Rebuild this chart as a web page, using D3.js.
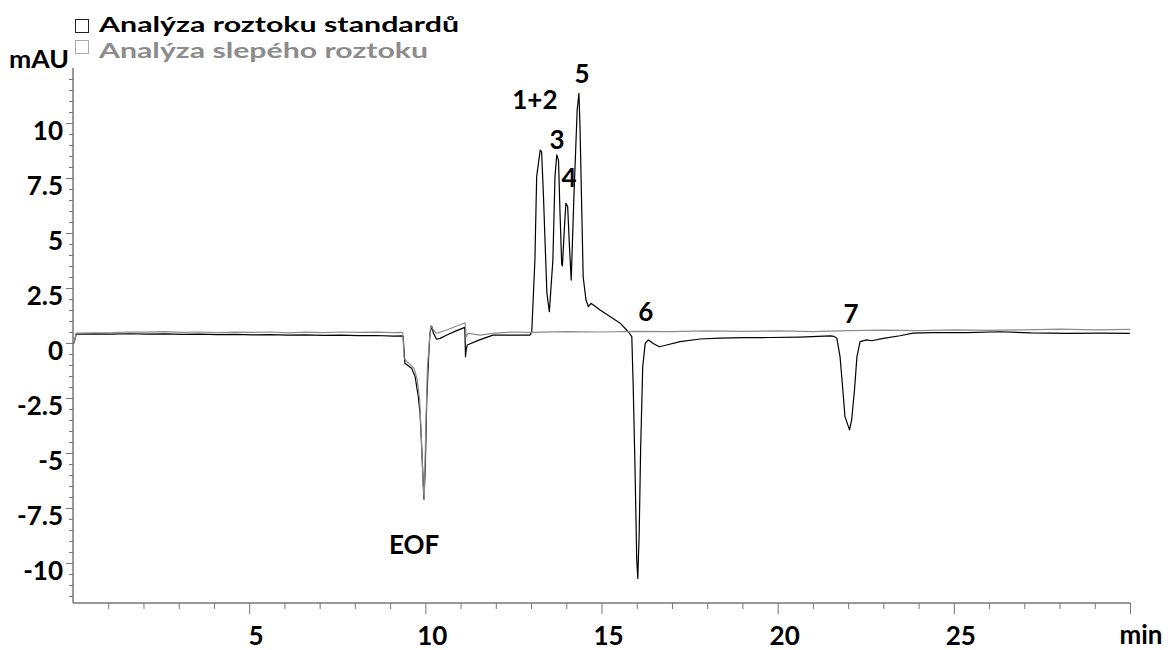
<!DOCTYPE html>
<html><head><meta charset="utf-8">
<script src="https://cdn.jsdelivr.net/npm/d3@7"></script>
<style>body{margin:0;background:#fff}svg{display:block}</style>
</head><body>
<svg id="c" width="1168" height="650"></svg>
<script>
const seriesNames = ["Analýza roztoku standardů", "Analýza slepého roztoku"];
const seriesColors = ["#000000", "#8c8c8c"];

const standardTime = [0,0.03,0.09,0.6,1.1,1.6,2.1,2.6,3.1,3.6,4.1,4.6,5.1,5.6,6.1,6.6,7.1,7.6,8.1,8.6,9.1,9.35,9.37,9.42,9.61,9.71,9.80,9.85,9.90,9.94,9.96,10.0,10.04,10.09,10.13,10.18,10.23,10.32,10.42,10.61,10.89,11.12,11.14,11.16,11.19,11.5,11.92,12.4,12.97,13.02,13.11,13.16,13.26,13.30,13.35,13.45,13.52,13.62,13.68,13.73,13.78,13.82,13.87,13.89,13.95,13.99,14.04,14.09,14.14,14.22,14.31,14.36,14.39,14.44,14.48,14.56,14.63,14.70,14.77,14.96,15.24,15.53,15.76,15.86,15.90,15.95,16.0,16.03,16.07,16.11,16.17,16.24,16.33,16.47,16.64,16.85,17.23,17.80,18.36,19.0,19.8,20.64,21.49,21.60,21.68,21.77,21.85,21.91,22.04,22.10,22.18,22.25,22.34,22.53,22.67,23.0,23.47,23.84,24.41,25.37,26.31,27.2,28.2,29.15,30.0];
const standardValue = [0,0,0.40,0.41,0.40,0.42,0.40,0.41,0.39,0.40,0.38,0.39,0.37,0.38,0.36,0.37,0.35,0.36,0.33,0.34,0.31,0.32,0.30,-0.92,-1.15,-1.53,-2.44,-3.2,-4.86,-6.38,-7.1,-5.6,-2.6,-0.77,0.44,0.77,0.44,0.17,0.21,0.36,0.56,0.71,-0.62,-0.3,-0.09,0.12,0.36,0.36,0.36,0.5,3.77,7.56,8.77,8.7,6.8,2.27,1.42,3.77,7.56,8.55,8.3,6.05,3.6,3.5,5.3,6.35,6.2,4.4,2.86,6.8,10.6,11.35,9.8,6.05,3.0,1.95,1.65,1.8,1.73,1.5,1.2,0.9,0.51,0.29,-1.99,-5.6,-9.86,-10.7,-8.65,-4.86,-1.08,-0.02,0.14,-0.02,-0.17,-0.09,0.06,0.18,0.22,0.24,0.25,0.27,0.32,0.30,0.21,-0.62,-2.14,-3.35,-3.95,-3.5,-2.14,-0.62,0.06,0.14,0.10,0.21,0.33,0.45,0.47,0.47,0.51,0.46,0.44,0.45,0.44];

const blankTime = [0,0.03,0.09,0.6,1.1,1.6,2.1,2.6,3.1,3.6,4.1,4.6,5.1,5.6,6.1,6.6,7.1,7.6,8.1,8.6,9.1,9.35,9.36,9.40,9.48,9.68,9.77,9.84,9.89,9.94,9.97,10.01,10.06,10.15,10.23,10.32,10.61,10.89,11.13,11.16,11.22,11.55,11.92,12.5,13.0,14.0,15.0,16.0,17.0,18.0,19.0,20.0,21.0,22.0,23.0,24.0,25.0,26.0,27.0,28.0,29.0,30.0];
const blankValue = [0,0,0.45,0.46,0.47,0.50,0.49,0.52,0.48,0.50,0.47,0.49,0.48,0.50,0.46,0.49,0.47,0.50,0.48,0.49,0.47,0.48,0.45,-0.7,-0.85,-1.15,-1.68,-2.6,-4.4,-6.5,-7.1,-4.1,-1.08,0.77,0.59,0.44,0.59,0.77,0.92,0.29,0.44,0.36,0.44,0.5,0.48,0.52,0.5,0.53,0.52,0.55,0.53,0.55,0.52,0.56,0.58,0.56,0.6,0.57,0.6,0.63,0.6,0.62];

const xMajorTicks = [5, 10, 15, 20, 25];
const xTickLabels = ["5", "10", "15", "20", "25"];
const yMajorTicks = [-10, -7.5, -5, -2.5, 0, 2.5, 5, 7.5, 10];
const yTickLabels = ["-10", "-7.5", "-5", "-2.5", "0", "2.5", "5", "7.5", "10"];
const xAxisTitle = "min";
const yAxisTitle = "mAU";

const peakLabels = ["1+2", "3", "4", "5", "6", "7", "EOF"];
const peakLabelTime = [13.11, 13.74, 14.08, 14.45, 16.26, 22.08, 9.68];
const peakLabelValue = [11.05, 9.23, 7.5, 12.23, 1.41, 1.32, -9.18];

const svg = d3.select("#c");
const FONT = "Lato, 'Open Sans', sans-serif";
const x = d3.scaleLinear().domain([0, 30]).range([73, 1130]);
const y = d3.scaleLinear().domain([-11.82, 12.5]).range([603, 68]);

// axes
const axisColor = "#777";
const xMinor = d3.range(1, 30).filter(d => d % 5 !== 0);
const gx = svg.append("g").attr("transform", `translate(0,${y.range()[0]})`);
gx.call(d3.axisBottom(x).tickValues(xMinor).tickSize(6).tickFormat(""));
gx.call(g => g.append("g").call(d3.axisBottom(x).tickValues([...xMajorTicks, 30]).tickSize(11).tickFormat("")));
gx.selectAll("path,line").attr("stroke", axisColor);
gx.selectAll(".domain").attr("d", `M${x.range()[0]},0H${x.range()[1]}`);
gx.selectAll("text").remove();
gx.selectAll(".lbl").data(xMajorTicks).enter().append("text")
  .attr("x", (d) => x(d) + 7).attr("y", 42)
  .attr("text-anchor", "middle").attr("font-family", FONT).attr("font-weight", 700)
  .attr("font-size", 26).attr("fill", "#000").text((d, i) => xTickLabels[i]);
svg.append("text").attr("x", 1141).attr("y", 644).attr("text-anchor", "middle")
  .attr("font-family", FONT).attr("font-weight", 700).attr("font-size", 26).text(xAxisTitle);

const yMinor = d3.range(-23, 25).map(d => d * 0.5).filter(d => Math.abs(d / 2.5 - Math.round(d / 2.5)) > 1e-6);
const gy = svg.append("g").attr("transform", `translate(${x.range()[0]},0)`);
gy.call(d3.axisLeft(y).tickValues(yMinor).tickSize(4).tickFormat(""));
gy.call(g => g.append("g").call(d3.axisLeft(y).tickValues(yMajorTicks).tickSize(7).tickFormat("")));
gy.selectAll("path,line").attr("stroke", axisColor);
gy.selectAll(".domain").attr("d", `M0,${y.range()[0]}V${y.range()[1]}`);
gy.selectAll(".lbl").data(yMajorTicks).enter().append("text")
  .attr("x", -10).attr("y", d => y(d) + 17)
  .attr("text-anchor", "end").attr("font-family", FONT).attr("font-weight", 700)
  .attr("font-size", 26).attr("fill", "#000").text((d, i) => yTickLabels[i]);
svg.append("text").attr("x", 9).attr("y", 68).attr("textLength", 60).attr("lengthAdjust", "spacingAndGlyphs")
  .attr("font-family", FONT).attr("font-weight", 700).attr("font-size", 25).text(yAxisTitle);

// traces
const line = d3.line().x(d => x(d[0])).y(d => y(d[1]));
const standard = standardTime.map((t, i) => [t, standardValue[i]]);
const blank = blankTime.map((t, i) => [t, blankValue[i]]);
svg.append("path").datum(standard).attr("d", line).attr("fill", "none")
  .attr("stroke", seriesColors[0]).attr("stroke-width", 1.2).attr("stroke-linejoin", "round");
svg.append("path").datum(blank).attr("d", line).attr("fill", "none")
  .attr("stroke", seriesColors[1]).attr("stroke-width", 1.2).attr("stroke-linejoin", "round");

// peak labels
svg.selectAll(".pk").data(peakLabels).enter().append("text")
  .attr("x", (d, i) => x(peakLabelTime[i])).attr("y", (d, i) => y(peakLabelValue[i]))
  .attr("dy", "0.36em").attr("text-anchor", "middle")
  .attr("font-family", FONT).attr("font-weight", 700).attr("font-size", 26).text(d => d);

// legend
const legendWidths = [360, 329];
const lg = svg.append("g");
seriesNames.forEach((name, i) => {
  lg.append("rect").attr("x", 75.5).attr("y", 19.5 + i * 21).attr("width", 13).attr("height", 13)
    .attr("fill", "#fff").attr("stroke", i === 0 ? "#222" : "#aaa").attr("stroke-width", 1);
  lg.append("text").attr("x", 99).attr("y", 32 + i * 26)
    .attr("textLength", legendWidths[i]).attr("lengthAdjust", "spacingAndGlyphs")
    .attr("font-family", FONT).attr("font-weight", 700).attr("font-size", 21.5)
    .attr("fill", seriesColors[i]).text(name);
});
</script>
</body></html>
